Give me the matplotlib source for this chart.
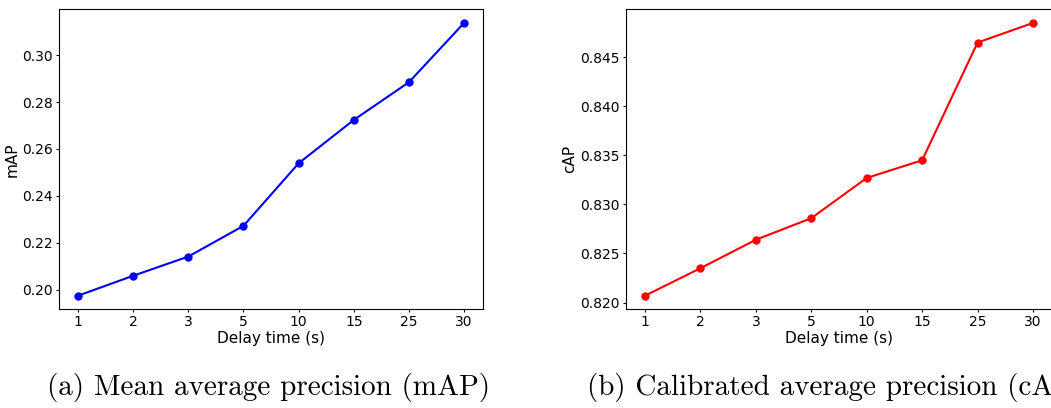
import matplotlib
matplotlib.use("Agg")
import matplotlib.pyplot as plt

delays = ["1", "2", "3", "5", "10", "15", "25", "30"]
map_values = [0.1974, 0.2059, 0.2141, 0.2272, 0.2539, 0.2724, 0.2885, 0.3138]
cap_values = [0.8207, 0.8235, 0.8264, 0.8286, 0.8327, 0.8345, 0.8465, 0.8485]
caption_a = "(a) Mean average precision (mAP)"
caption_b = "(b) Calibrated average precision (cAP)"

fig = plt.figure(figsize=(10.51, 4.08), dpi=100)
ax1 = fig.add_axes([0.0559, 0.2419, 0.404, 0.7353])
ax2 = fig.add_axes([0.5953, 0.2419, 0.406, 0.7353])

x = list(range(len(delays)))
ax1.plot(x, map_values, color="blue", marker="o", markersize=5, linewidth=1.5)
ax2.plot(x, cap_values, color="red", marker="o", markersize=5, linewidth=1.5)

ax1.set_yticks([0.20, 0.22, 0.24, 0.26, 0.28, 0.30])
ax2.set_yticks([0.820, 0.825, 0.830, 0.835, 0.840, 0.845])
ax1.yaxis.set_major_formatter(matplotlib.ticker.FormatStrFormatter("%.2f"))
ax2.yaxis.set_major_formatter(matplotlib.ticker.FormatStrFormatter("%.3f"))

for ax, ylabel in [(ax1, "mAP"), (ax2, "cAP")]:
    ax.set_xticks(x)
    ax.set_xticklabels(delays)
    ax.tick_params(labelsize=10, length=2.5, width=0.8, pad=1.8)
    ax.set_xlabel("Delay time (s)", fontsize=11, labelpad=1)
    ax.set_ylabel(ylabel, fontsize=11, labelpad=2)
    for sp in ax.spines.values():
        sp.set_linewidth(0.8)

fig.text(47 / 1051, 1 - 395.5 / 408, caption_a, family="cmr10", fontsize=21, va="baseline", ha="left")
fig.text(587 / 1051, 1 - 395.5 / 408, caption_b, family="cmr10", fontsize=21, va="baseline", ha="left")

fig.savefig("out.png", dpi=100)
